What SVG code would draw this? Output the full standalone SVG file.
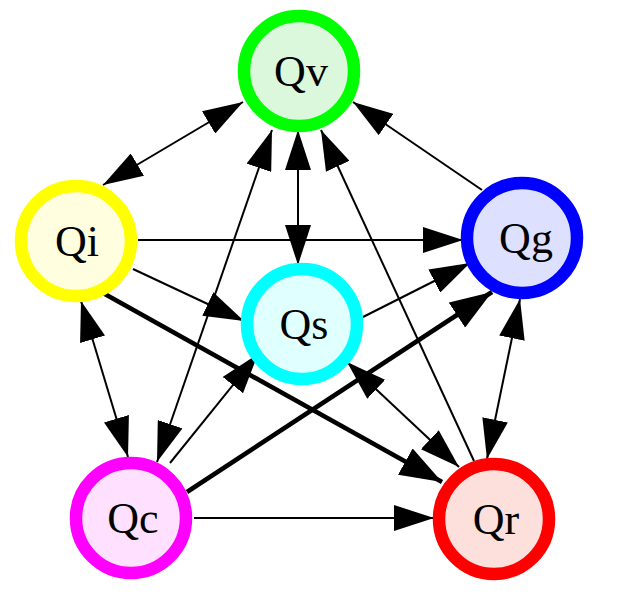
<svg xmlns="http://www.w3.org/2000/svg" width="639" height="594" viewBox="0 0 639 594">
<style>
.node circle{stroke-width:12.5}
.node text{font-family:"Liberation Serif","Times New Roman",serif;font-size:44px;text-anchor:middle;fill:#000}
.e{fill:none;stroke:#000;stroke-width:2}
.t{fill:none;stroke:#000;stroke-width:4.5}
</style>
<defs>
<marker id="a" markerUnits="userSpaceOnUse" viewBox="0 0 40 26" refX="40" refY="13" markerWidth="40" markerHeight="26" orient="auto-start-reverse">
<path d="M0,0 L40,13 L0,26 z" fill="#000"/>
</marker>
<marker id="b" markerUnits="userSpaceOnUse" viewBox="0 0 42 30" refX="42" refY="15" markerWidth="42" markerHeight="30" orient="auto-start-reverse">
<path d="M0,0 L42,15 L0,30 z" fill="#000"/>
</marker>
</defs>
<rect width="639" height="594" fill="#fff"/>
<g id="edges">
<line class="e" x1="103" y1="185" x2="243" y2="102" marker-start="url(#a)" marker-end="url(#a)"/>
<line class="e" x1="298" y1="130" x2="298" y2="265" marker-start="url(#a)" marker-end="url(#a)"/>
<line class="e" x1="482" y1="190" x2="353" y2="102" marker-end="url(#a)"/>
<line class="e" x1="474" y1="461" x2="321" y2="130" marker-end="url(#a)"/>
<line class="e" x1="157" y1="462" x2="272" y2="130" marker-start="url(#a)" marker-end="url(#a)"/>
<line class="e" x1="138" y1="240" x2="463" y2="240" marker-end="url(#a)"/>
<line class="e" x1="133" y1="269" x2="244" y2="321" marker-end="url(#a)"/>
<line class="t" x1="103" y1="293" x2="442" y2="482" marker-end="url(#b)"/>
<line class="e" x1="81" y1="301" x2="128" y2="457" marker-start="url(#a)" marker-end="url(#a)"/>
<line class="e" x1="363" y1="317" x2="470" y2="263" marker-end="url(#a)"/>
<line class="t" x1="187" y1="492" x2="492" y2="292" marker-end="url(#b)"/>
<line class="e" x1="520" y1="299" x2="487" y2="459" marker-start="url(#a)" marker-end="url(#a)"/>
<line class="e" x1="347" y1="362" x2="459" y2="467" marker-start="url(#a)" marker-end="url(#a)"/>
<line class="e" x1="170" y1="463" x2="258" y2="354" marker-end="url(#a)"/>
<line class="e" x1="194" y1="518" x2="434" y2="518" marker-end="url(#a)"/>
</g>
<g id="Qv" class="node"><circle cx="299" cy="71" r="55" fill="#dcf8dc" stroke="#00ff00"/><text x="301" y="86">Qv</text></g>
<g id="Qi" class="node"><circle cx="76" cy="241" r="55" fill="#ffffe0" stroke="#ffff00"/><text x="77" y="256">Qi</text></g>
<g id="Qg" class="node"><circle cx="522" cy="238" r="55" fill="#dde0ff" stroke="#0000ff"/><text x="526" y="253">Qg</text></g>
<g id="Qs" class="node"><circle cx="302" cy="324" r="55" fill="#e0ffff" stroke="#00ffff"/><text x="304" y="339">Qs</text></g>
<g id="Qc" class="node"><circle cx="131" cy="518" r="55" fill="#ffe0ff" stroke="#ff00ff"/><text x="133" y="533">Qc</text></g>
<g id="Qr" class="node"><circle cx="494" cy="519" r="55" fill="#fde0dc" stroke="#ff0000"/><text x="496" y="534">Qr</text></g>
</svg>
